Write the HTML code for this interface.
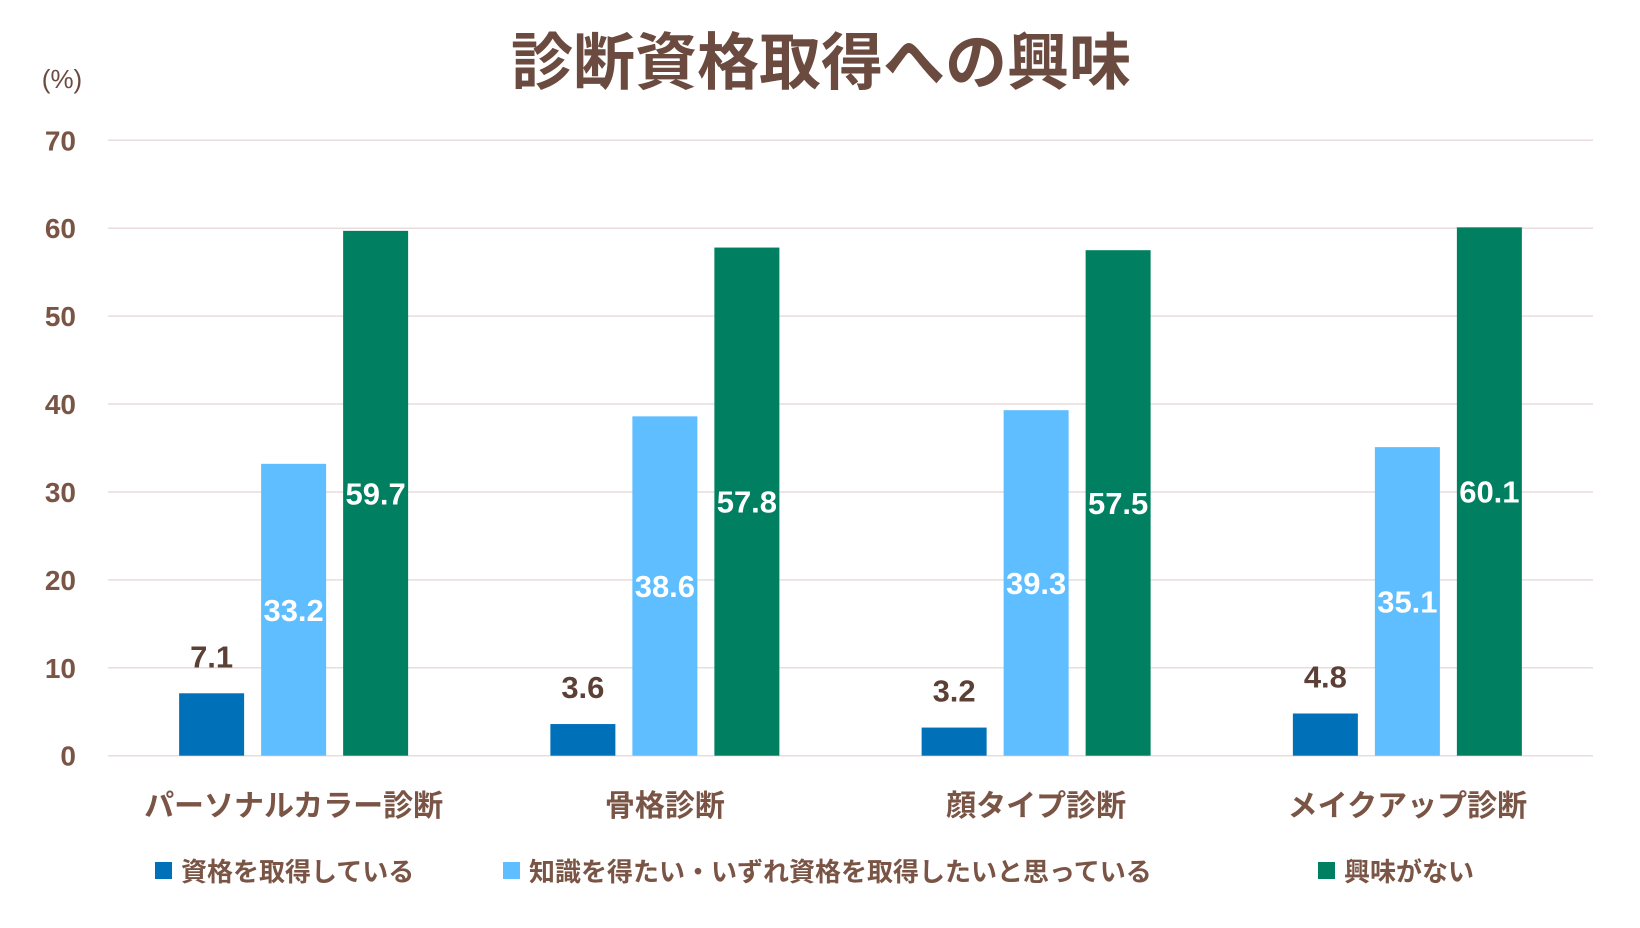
<!DOCTYPE html>
<html><head><meta charset="utf-8">
<style>
body{margin:0;background:#fff;}
svg text{font-family:"Liberation Sans","Noto Sans CJK JP",sans-serif;font-weight:bold;}
</style></head>
<body>
<svg id="chart" width="1640" height="923" viewBox="0 0 1640 923" xmlns="http://www.w3.org/2000/svg">
<rect width="1640" height="923" fill="#fff"/>
<text x="821" y="84" text-anchor="middle" font-size="62" fill="#6B4A3F">診断資格取得への興味</text>
<text x="62" y="88" text-anchor="middle" font-size="26" font-weight="normal" fill="#6B4A3F" style="font-weight:normal">(%)</text>
<g id="grid"></g><g id="bars"></g><g id="labels"></g>
<g id="legend"></g>
</svg>
<script>
const categories=["パーソナルカラー診断","骨格診断","顔タイプ診断","メイクアップ診断"];
const seriesNames=["資格を取得している","知識を得たい・いずれ資格を取得したいと思っている","興味がない"];
const seriesColors=["#0070B8","#5EBEFF","#008060"];
const held=[7.1,3.6,3.2,4.8];
const want=[33.2,38.6,39.3,35.1];
const none=[59.7,57.8,57.5,60.1];
const yTicks=[0,10,20,30,40,50,60,70];
const series=[held,want,none];
const NS="http://www.w3.org/2000/svg";
const x0=108,x1=1593,yBase=755.7,yTop=140.3,yMax=70;
const y=v=>yBase-(yBase-yTop)*v/yMax;
const catW=(x1-x0)/categories.length;
const barW=65,step=82;
function mk(tag,attrs,parent){const e=document.createElementNS(NS,tag);for(const k in attrs)e.setAttribute(k,attrs[k]);parent.appendChild(e);return e;}
const grid=document.getElementById('grid'),bars=document.getElementById('bars'),labels=document.getElementById('labels'),legend=document.getElementById('legend');
yTicks.forEach(t=>{
  const l=mk('line',{x1:x0,x2:x1,y1:y(t),y2:y(t),stroke:'#EADCDC','stroke-width':1.5},grid);
  
  
  const tx=mk('text',{x:76,y:y(t)+10,'text-anchor':'end','font-size':28,fill:'#7A5546'},grid);
  
  
  tx.textContent=t;
});
categories.forEach((c,i)=>{
  const cx=x0+catW*(i+0.5);
  series.forEach((s,j)=>{
    const v=s[i];
    const bx=cx+(j-1)*step-barW/2;
    const r=mk('rect',{x:bx,y:y(v),width:barW,height:yBase-y(v),fill:seriesColors[j]},bars);
    
    
    let ty,fill;
    if(j===0){ty=y(v)-26;fill='#5C4036';}else{ty=(y(v)+yBase)/2+11;fill='#fff';}
    const t=mk('text',{x:bx+barW/2,y:ty,'text-anchor':'middle','font-size':31,fill:fill},labels);
    
    
    t.textContent=v.toFixed(1);
  });
  const ct=mk('text',{x:cx,y:816,'text-anchor':'middle','font-size':30,fill:'#7A5546'},labels);
  
  
  ct.textContent=c;
});
const legX=[155,503,1318];
seriesNames.forEach((n,j)=>{
  const r=mk('rect',{x:legX[j],y:862,width:17,height:17,fill:seriesColors[j]},legend);
  
  
  const t=mk('text',{x:legX[j]+26,y:881,'font-size':26,fill:'#7A5546'},legend);
  
  
  t.textContent=n;
});
</script>
</body></html>
